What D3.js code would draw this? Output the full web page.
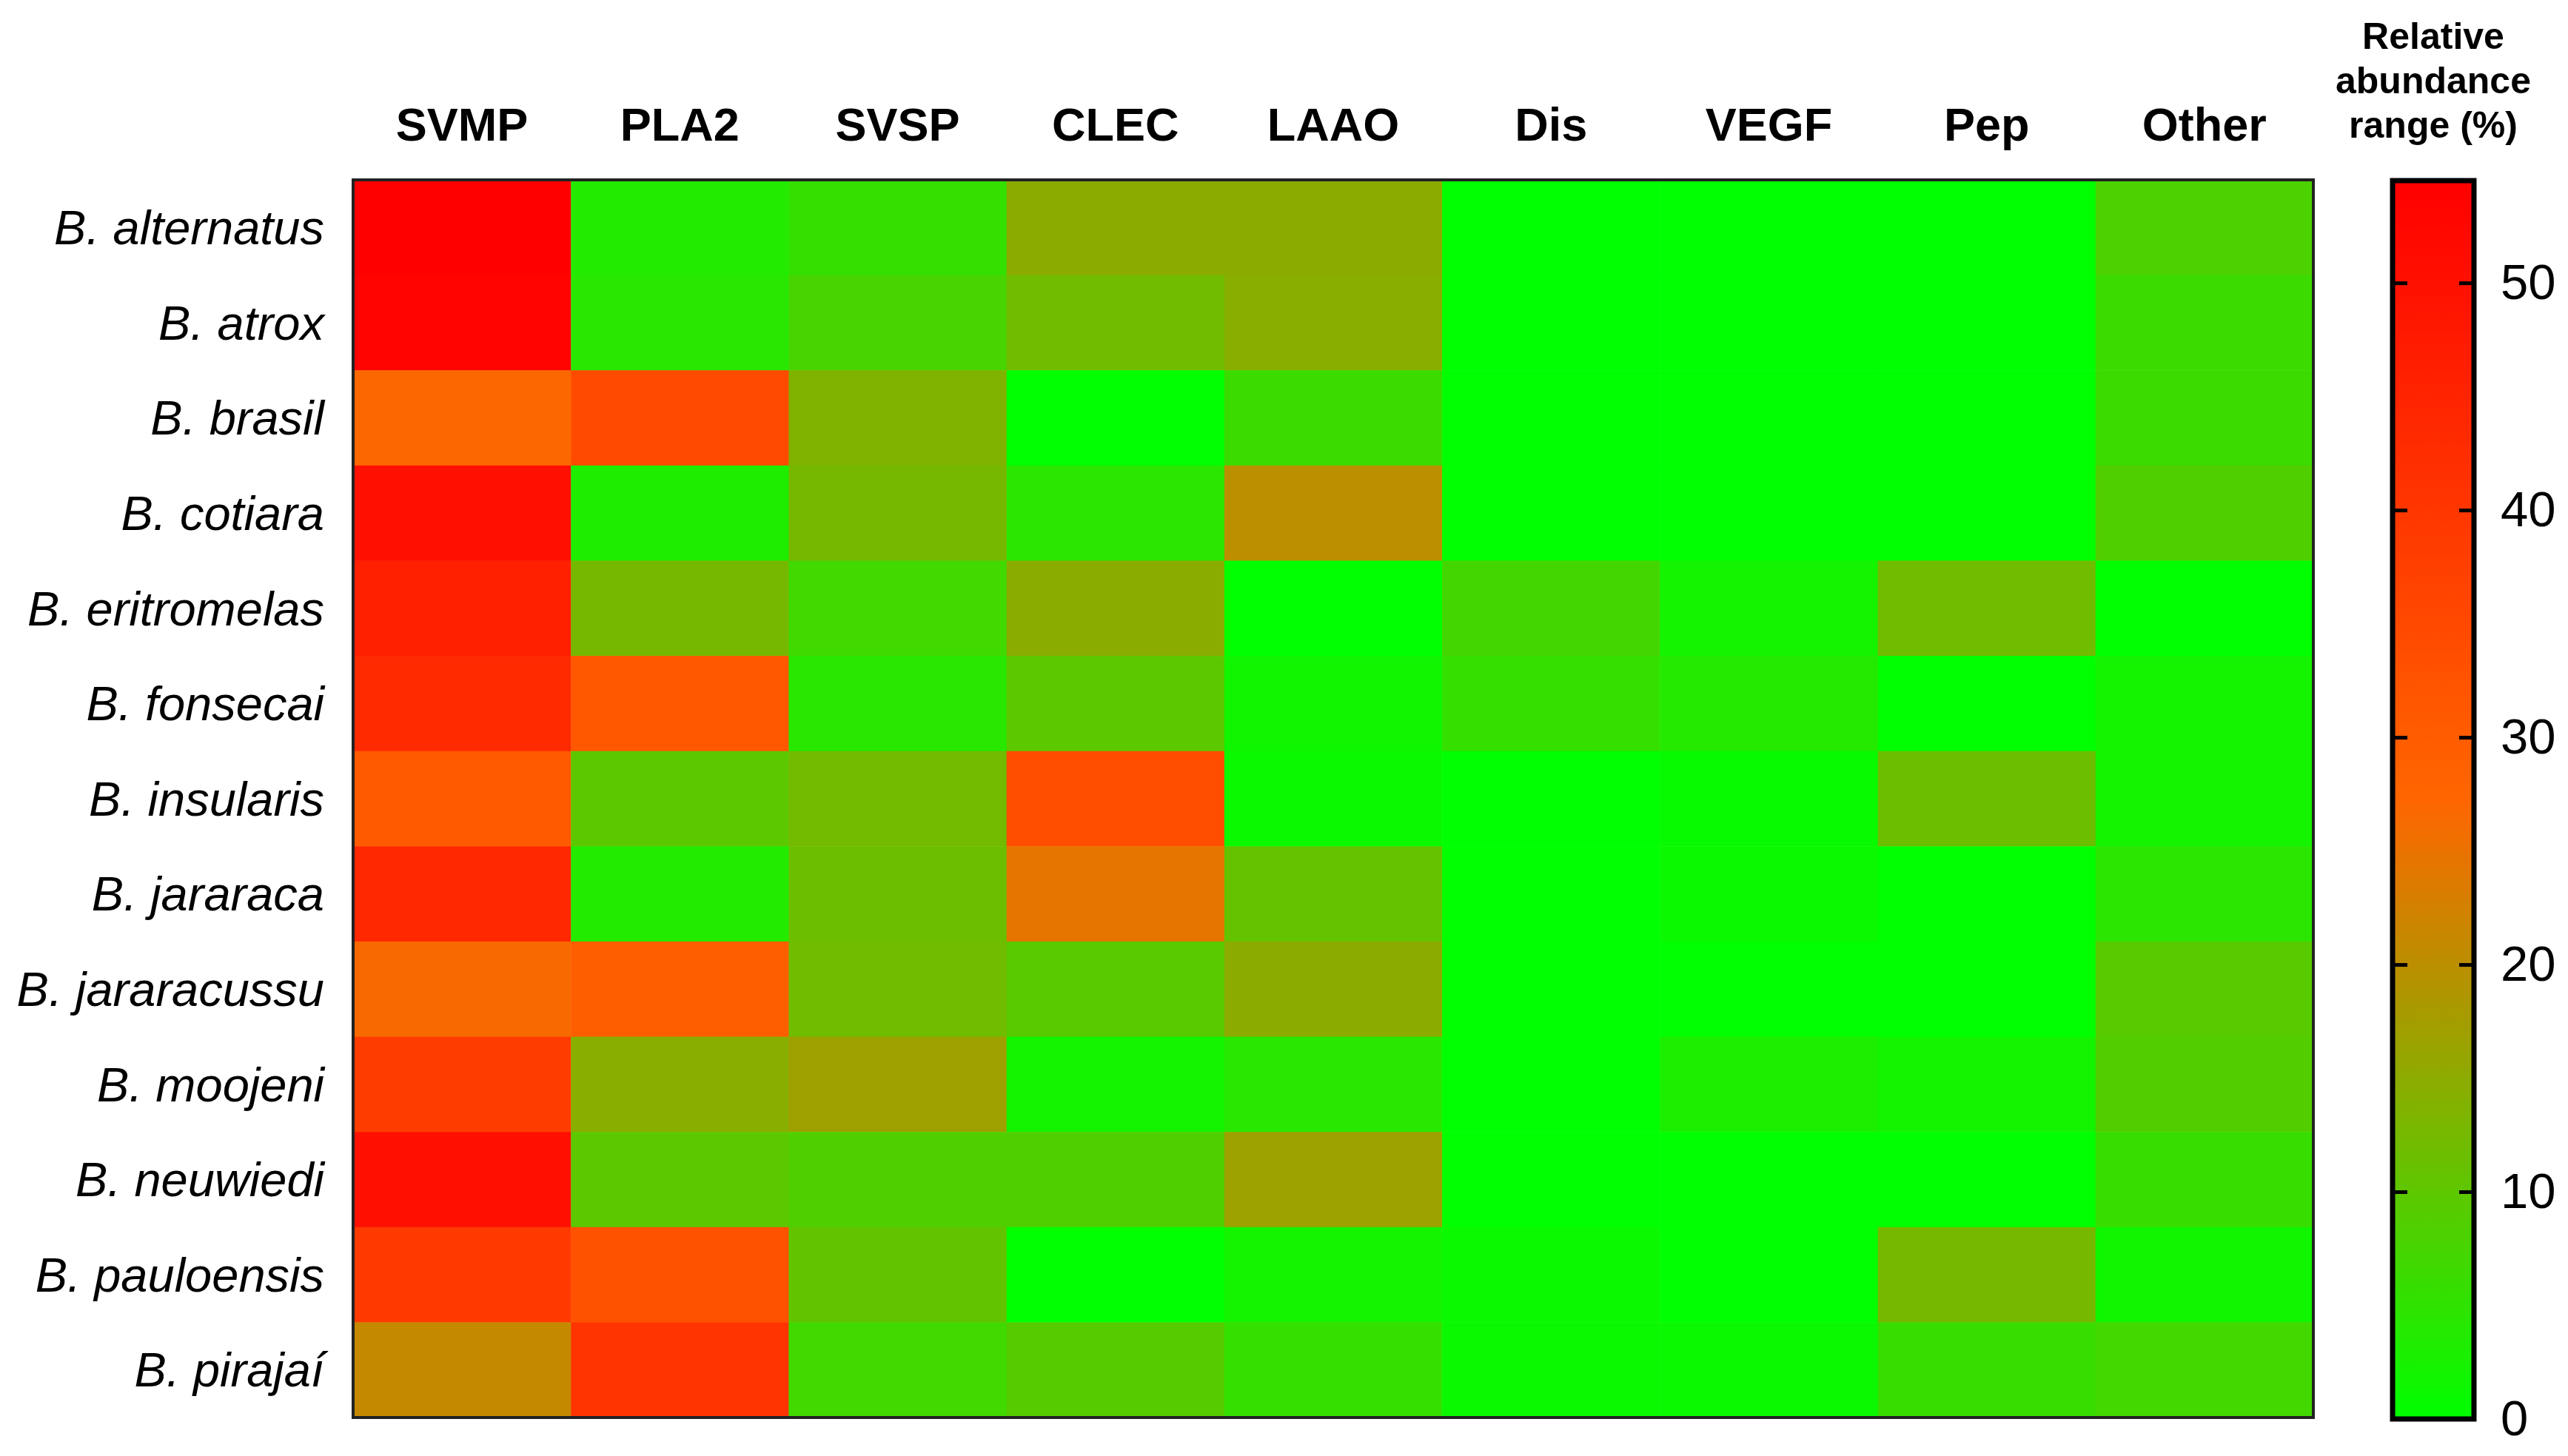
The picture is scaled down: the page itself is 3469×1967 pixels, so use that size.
<!DOCTYPE html>
<html>
<head>
<meta charset="utf-8">
<script src="https://d3js.org/d3.v7.min.js"></script>
<style>
  body { margin: 0; background: #fff; }
  text { font-family: "Liberation Sans", Arial, sans-serif; fill: #000; }
</style>
</head>
<body>
<div id="heatmap"></div>
<script>
// Data
var species = ["B. alternatus", "B. atrox", "B. brasil", "B. cotiara", "B. eritromelas",
    "B. fonsecai", "B. insularis", "B. jararaca", "B. jararacussu", "B. moojeni",
    "B. neuwiedi", "B. pauloensis", "B. pirajaí"];

var families = ["SVMP", "PLA2", "SVSP", "CLEC", "LAAO", "Dis", "VEGF", "Pep", "Other"];

// one row per species, one value (%) per toxin family
var abundance = [
    [54.5, 3.6, 5.5, 15.0, 15.0, 0, 0, 0, 8.1],
    [53.8, 4.3, 7.7, 12.0, 14.5, 0, 0, 0, 6.4],
    [27.0, 34.7, 13.7, 0, 6.4, 0, 0, 0, 6.4],
    [50.2, 3.2, 12.6, 4.5, 20.0, 0, 0, 0, 8.5],
    [46.0, 12.6, 6.8, 14.7, 0, 7.3, 2.1, 12.0, 0],
    [43.3, 31.0, 4.3, 9.8, 1.7, 5.6, 3.8, 0, 2.1],
    [30.5, 9.8, 12.2, 33.7, 1.1, 0, 0.9, 11.5, 2.1],
    [43.8, 3.6, 11.5, 24.6, 10.7, 0, 1.1, 0, 4.5],
    [26.5, 29.4, 12.0, 9.4, 15.0, 0, 0, 0, 9.4],
    [38.5, 14.5, 16.9, 2.1, 4.3, 0, 3.0, 2.1, 8.8],
    [50.2, 9.8, 8.5, 8.5, 16.7, 0, 0, 0, 6.0],
    [39.0, 32.6, 10.5, 0, 2.1, 1.1, 0, 12.6, 1.7],
    [21.0, 40.6, 6.8, 9.2, 5.6, 1.1, 1.1, 6.0, 7.0]
];

var legendTicks = [0, 10, 20, 30, 40, 50];
var legendMax = 54.5;

// SVG wrapper
var svgWidth = 3469;
var svgHeight = 1967;

var svg = d3.select("#heatmap")
    .append("svg")
    .attr("width", svgWidth)
    .attr("height", svgHeight);

// heat map area
var map = { left: 477, top: 243, right: 3125, bottom: 1915 };

var xScale = d3.scaleBand()
    .domain(families)
    .range([map.left, map.right]);

var yScale = d3.scaleBand()
    .domain(species)
    .range([map.top, map.bottom]);

// green -> orange -> red
var colorScale = d3.scaleLinear()
    .domain([0, legendMax / 2, legendMax])
    .range(["#00ff00", "#ff6600", "#ff0000"])
    .clamp(true);

// flatten rows into cells
var cells = [];
abundance.forEach(function(row, i) {
    row.forEach(function(v, j) {
        cells.push({ species: species[i], family: families[j], value: v });
    });
});

svg.append("g")
    .selectAll("rect")
    .data(cells)
    .enter()
    .append("rect")
    .attr("x", d => xScale(d.family))
    .attr("y", d => yScale(d.species))
    .attr("width", xScale.bandwidth() + 0.5)
    .attr("height", yScale.bandwidth() + 0.5)
    .attr("fill", d => colorScale(d.value));

// frame around the map
svg.append("rect")
    .attr("x", map.left)
    .attr("y", map.top)
    .attr("width", map.right - map.left)
    .attr("height", map.bottom - map.top)
    .attr("fill", "none")
    .attr("stroke", "#222")
    .attr("stroke-width", 4);

// column labels
svg.append("g")
    .selectAll("text")
    .data(families)
    .enter()
    .append("text")
    .attr("x", d => xScale(d) + xScale.bandwidth() / 2)
    .attr("y", 190)
    .attr("text-anchor", "middle")
    .style("font-size", "63px")
    .style("font-weight", "bold")
    .text(d => d);

// row labels
svg.append("g")
    .selectAll("text")
    .data(species)
    .enter()
    .append("text")
    .attr("x", 438)
    .attr("y", d => yScale(d) + yScale.bandwidth() / 2)
    .attr("dy", "0.35em")
    .attr("text-anchor", "end")
    .style("font-size", "65px")
    .style("font-style", "italic")
    .text(d => d);

// legend
var bar = { left: 3232, right: 3342 };
var legendScale = d3.scaleLinear()
    .domain([0, legendMax])
    .range([1917, 244]);

var grad = svg.append("defs")
    .append("linearGradient")
    .attr("id", "legendGrad")
    .attr("x1", 0).attr("y1", 1)
    .attr("x2", 0).attr("y2", 0);

grad.selectAll("stop")
    .data(d3.range(0, 1.0001, 0.05))
    .enter()
    .append("stop")
    .attr("offset", d => d)
    .attr("stop-color", d => colorScale(d * legendMax));

svg.append("rect")
    .attr("x", bar.left)
    .attr("y", legendScale(legendMax))
    .attr("width", bar.right - bar.left)
    .attr("height", legendScale(0) - legendScale(legendMax))
    .attr("fill", "url(#legendGrad)")
    .attr("stroke", "#000")
    .attr("stroke-width", 7);

// inward ticks on both sides of the bar
var leftTicks = svg.append("g")
    .attr("transform", `translate(${bar.left}, 0)`)
    .call(d3.axisRight(legendScale).tickValues(legendTicks).tickSize(20).tickFormat(""));

var rightTicks = svg.append("g")
    .attr("transform", `translate(${bar.right}, 0)`)
    .call(d3.axisLeft(legendScale).tickValues(legendTicks).tickSize(20).tickFormat(""));

[leftTicks, rightTicks].forEach(function(g) {
    g.select(".domain").remove();
    g.selectAll("line").attr("stroke", "#000").attr("stroke-width", 5);
});

// tick labels
var labelAxis = svg.append("g")
    .attr("transform", `translate(${bar.right}, 0)`)
    .call(d3.axisRight(legendScale).tickValues(legendTicks).tickSize(0).tickPadding(36));

labelAxis.select(".domain").remove();
labelAxis.selectAll("text")
    .style("font-size", "67px")
    .style("font-family", "'Liberation Sans', Arial, sans-serif")
    .attr("fill", "#000");

// legend title
var titleLines = ["Relative", "abundance", "range (%)"];
svg.append("g")
    .selectAll("text")
    .data(titleLines)
    .enter()
    .append("text")
    .attr("x", (bar.left + bar.right) / 2)
    .attr("y", (d, i) => 66 + i * 60)
    .attr("text-anchor", "middle")
    .style("font-size", "50px")
    .style("font-weight", "bold")
    .text(d => d);
</script>
</body>
</html>
